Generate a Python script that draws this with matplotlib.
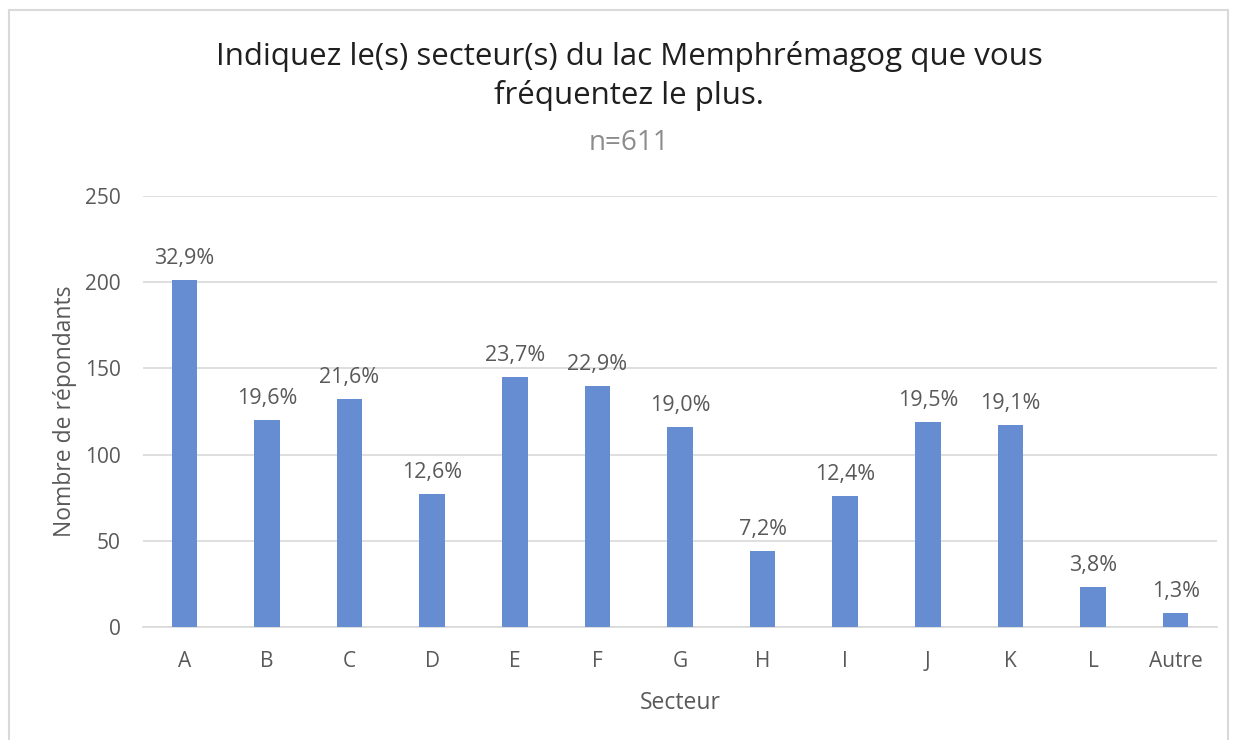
import matplotlib
matplotlib.use("Agg")
import matplotlib.pyplot as plt
from matplotlib.patches import Rectangle

categories = ["A", "B", "C", "D", "E", "F", "G", "H", "I", "J", "K", "L", "Autre"]
counts = [201, 120, 132, 77, 145, 140, 116, 44, 76, 119, 117, 23, 8]
pct_labels = ["32,9%", "19,6%", "21,6%", "12,6%", "23,7%", "22,9%", "19,0%",
              "7,2%", "12,4%", "19,5%", "19,1%", "3,8%", "1,3%"]
yticks = [0, 50, 100, 150, 200, 250]

plt.rcParams['font.family'] = ['Open Sans', 'DejaVu Sans']
W, H = 1233, 740
fig = plt.figure(figsize=(W / 100, H / 100), dpi=100)
ax = fig.add_axes([143 / W, 1 - 627 / H, (1217 - 143) / W, (627 - 196) / H])

bar_color = "#668CD1"
grey = "#595959"
x = list(range(len(categories)))
ax.bar(x, counts, width=0.31, color=bar_color, zorder=3)
ax.set_xlim(-0.5, len(categories) - 0.5)
ax.set_ylim(0, 250)
ax.set_yticks(yticks)
ax.set_xticks(x)
ax.set_xticklabels(categories)
ax.tick_params(axis='both', length=0, colors=grey, labelsize=15)
ax.tick_params(axis='x', pad=17)
ax.tick_params(axis='y', pad=16)
ax.grid(axis='y', color="#D9D9D9", linewidth=1.2, zorder=0)
for s in ["top", "right", "left"]:
    ax.spines[s].set_visible(False)
ax.spines["bottom"].set_color("#D9D9D9")
ax.spines["bottom"].set_linewidth(1.2)

for xi, c, lab in zip(x, counts, pct_labels):
    ax.annotate(lab, (xi, c), xytext=(0, 8), textcoords="offset points",
                ha="center", va="bottom", fontsize=15.5, color=grey)

ax.set_xlabel("Secteur", fontsize=16.5, color=grey, labelpad=14)
ax.set_ylabel("Nombre de répondants", fontsize=16.5, color=grey, labelpad=6)

fig.text(629 / W, 1 - 76 / H, "Indiquez le(s) secteur(s) du lac Memphrémagog que vous\nfréquentez le plus.",
         ha="center", va="center", fontsize=22.5, color="#1F1F1F", linespacing=1.3)
fig.text(629 / W, 1 - 143 / H, "n=611", ha="center", va="center", fontsize=20, color="#8C8C8C")

fig.patches.append(Rectangle((9 / W, -0.01), (1228 - 9) / W, 1 - 10 / H + 0.01,
                             transform=fig.transFigure, fill=False,
                             edgecolor="#D9D9D9", linewidth=1.5))

fig.savefig("out.png", dpi=100)
